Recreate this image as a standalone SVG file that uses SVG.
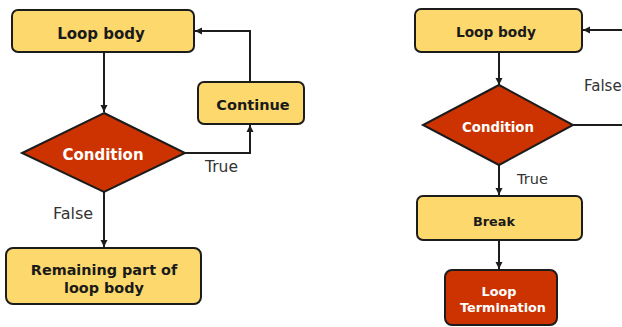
<svg xmlns="http://www.w3.org/2000/svg" width="622" height="327" viewBox="0 0 622 327">
<style>
.box{fill:#FDD86C;stroke:#1c1c1c;stroke-width:2}
.red{fill:#CC3300;stroke:#1c1c1c;stroke-width:2}
.t{font-family:"DejaVu Sans",sans-serif;font-weight:bold;fill:#1a1a1a;text-anchor:middle}
.w{font-family:"DejaVu Sans",sans-serif;font-weight:bold;fill:#ffffff;text-anchor:middle}
.lbl{font-family:"DejaVu Sans",sans-serif;fill:#333333}
.c{fill:none;stroke:#1c1c1c;stroke-width:2}
</style>
<defs>
<marker id="ah" markerWidth="8" markerHeight="8" refX="7" refY="4" orient="auto" markerUnits="userSpaceOnUse">
<path d="M0,0.5 L7,4 L0,7.5 Z" fill="#1c1c1c"/>
</marker>
</defs>
<rect width="622" height="327" fill="#ffffff"/>
<g id="connectors">
<line class="c" x1="104" y1="53" x2="104" y2="112" marker-end="url(#ah)"/>
<polyline class="c" points="185,153 250,153 250,125" marker-end="url(#ah)"/>
<polyline class="c" points="250,82 250,31 195,31" marker-end="url(#ah)"/>
<line class="c" x1="104" y1="192" x2="104" y2="247" marker-end="url(#ah)"/>
<line class="c" x1="622" y1="30" x2="583" y2="30" marker-end="url(#ah)"/>
<line class="c" x1="499" y1="53" x2="499" y2="85" marker-end="url(#ah)"/>
<line class="c" x1="573" y1="125" x2="622" y2="125"/>
<line class="c" x1="499" y1="165" x2="499" y2="195" marker-end="url(#ah)"/>
<line class="c" x1="499" y1="240" x2="499" y2="269" marker-end="url(#ah)"/>
<text class="lbl" x="205" y="172" font-size="15.5">True</text>
<text class="lbl" x="53" y="219" font-size="16">False</text>
<text class="lbl" x="584" y="91" font-size="15">False</text>
<text class="lbl" x="517" y="184" font-size="14.5">True</text>
</g>
<g id="loop-body-left">
<rect class="box" x="12" y="10" width="182" height="42" rx="6"/>
<text class="t" x="101" y="39" font-size="15">Loop body</text>
</g>
<g id="condition-left">
<polygon class="red" points="104,113 185,153 104,192 22,153"/>
<text class="w" x="103" y="160" font-size="15">Condition</text>
</g>
<g id="continue">
<rect class="box" x="198" y="82" width="106" height="42" rx="6"/>
<text class="t" x="253" y="110" font-size="14.5">Continue</text>
</g>
<g id="remaining">
<rect class="box" x="6" y="248" width="195" height="56" rx="7"/>
<text class="t" x="104" y="275" font-size="14.4">Remaining part of</text>
<text class="t" x="104" y="293" font-size="14.4">loop body</text>
</g>
<g id="loop-body-right">
<rect class="box" x="415" y="9" width="167" height="43" rx="6"/>
<text class="t" x="496" y="37" font-size="13.7">Loop body</text>
</g>
<g id="condition-right">
<polygon class="red" points="499,85 573,125 499,165 423,125"/>
<text class="w" x="498" y="132" font-size="13.3">Condition</text>
</g>
<g id="break">
<rect class="box" x="417" y="196" width="165" height="44" rx="6"/>
<text class="t" x="494" y="226" font-size="12.8">Break</text>
</g>
<g id="loop-termination">
<rect class="red" x="445" y="270" width="112" height="55" rx="7"/>
<text class="w" x="499" y="296" font-size="12.8">Loop</text>
<text class="w" x="503" y="312" font-size="12.8">Termination</text>
</g>
</svg>
